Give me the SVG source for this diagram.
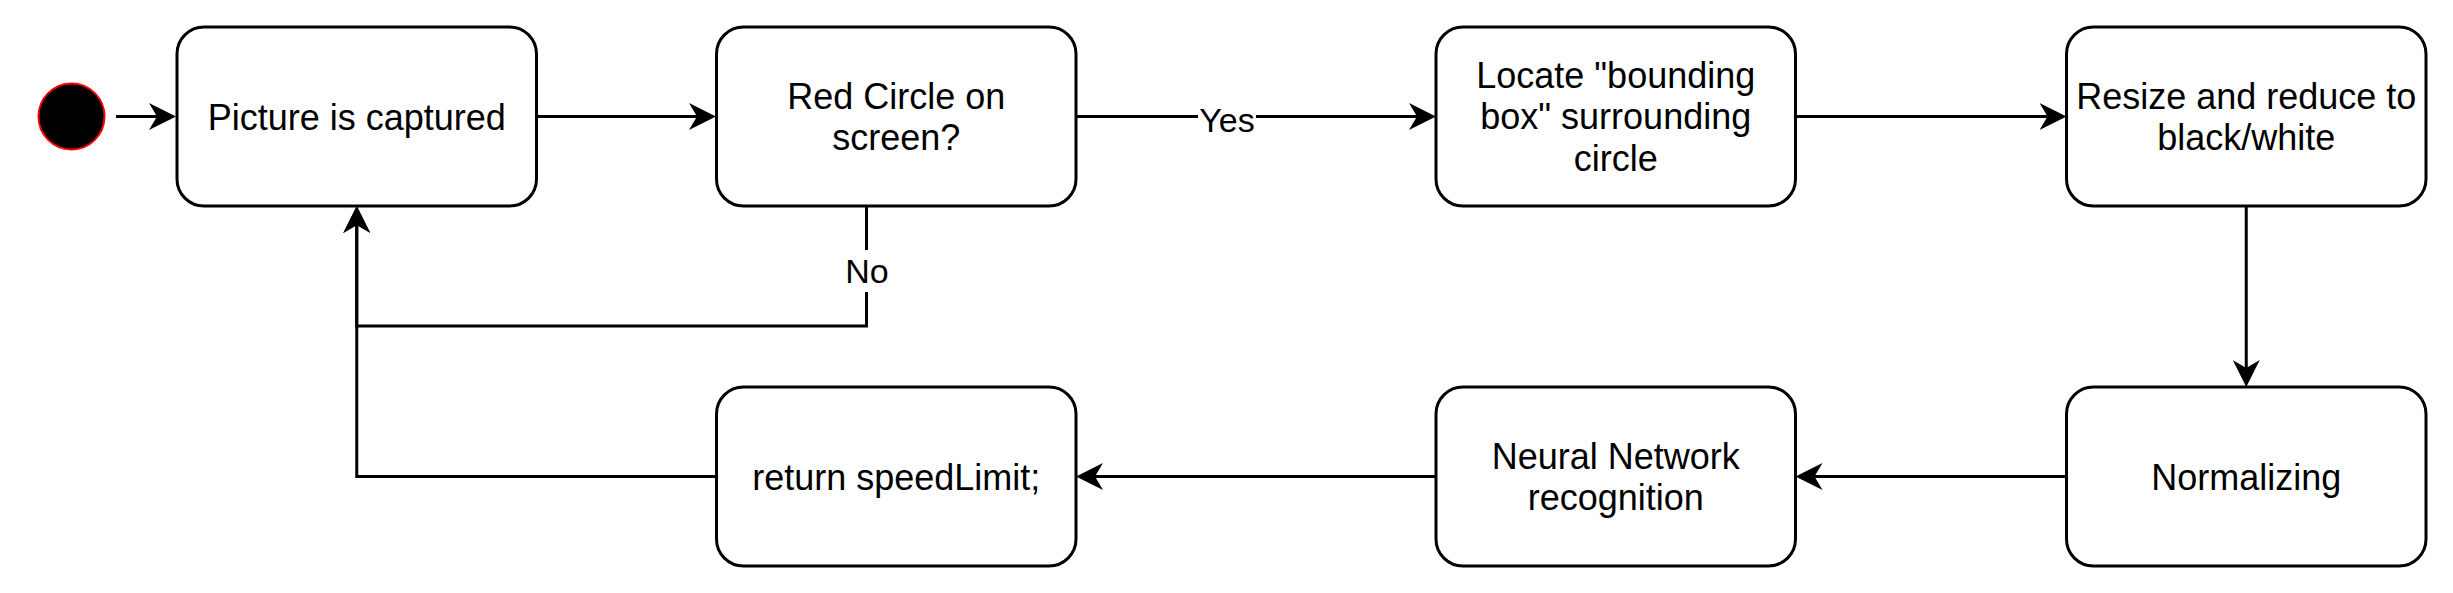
<svg xmlns="http://www.w3.org/2000/svg" width="2453" height="593" viewBox="0 0 2453 593">
<style>
.node{fill:#ffffff;stroke:#000000;stroke-width:3}
.t{font-family:"Liberation Sans",Arial,sans-serif;font-size:36px;fill:#000000;text-anchor:middle}
.lbl{font-family:"Liberation Sans",Arial,sans-serif;font-size:34px;fill:#000000;text-anchor:middle}
.edge{fill:none;stroke:#000000;stroke-width:3;marker-end:url(#arr)}
.plain{fill:none;stroke:#000000;stroke-width:3}
</style>
<defs>
<marker id="arr" markerUnits="userSpaceOnUse" viewBox="0 0 27 27" refX="8" refY="13.5" markerWidth="27" markerHeight="27" orient="auto">
<path d="M0,0 L27,13.5 L0,27 L8,13.5 Z" fill="#000000"/>
</marker>
</defs>
<rect width="2453" height="593" fill="#ffffff"/>
<g id="connectors">
<path class="edge" d="M116,116.5 H157"/>
<path class="edge" d="M536.5,116.5 H697"/>
<path class="edge" d="M1076,116.5 H1417"/>
<path class="edge" d="M1795.5,116.5 H2047.5"/>
<path class="edge" d="M2246.25,206 V368"/>
<path class="edge" d="M2066.5,476.5 H1814.5"/>
<path class="edge" d="M1436,476.5 H1095"/>
<path class="edge" d="M716.5,476.5 H356.75 V225"/>
<path class="edge" d="M866.5,206 V326 H356.75 V225"/>
<rect x="1198" y="100" width="58" height="33" fill="#ffffff"/>
<text class="lbl" x="1227" y="131.5">Yes</text>
<rect x="845" y="250" width="44" height="42" fill="#ffffff"/>
<text class="lbl" x="867" y="282.5">No</text>
</g>
<g id="start">
<circle cx="71.5" cy="116.5" r="33" fill="#000000" stroke="#ff0000" stroke-width="2"/>
</g>
<g id="picture-captured">
<rect class="node" x="177" y="27" width="359.5" height="179" rx="27" ry="27"/>
<text class="t" x="356.75" y="129.5">Picture is captured</text>
</g>
<g id="red-circle">
<rect class="node" x="716.5" y="27" width="359.5" height="179" rx="27" ry="27"/>
<text class="t" x="896.25" y="109">Red Circle on</text>
<text class="t" x="896.25" y="150">screen?</text>
</g>
<g id="locate-box">
<rect class="node" x="1436" y="27" width="359.5" height="179" rx="27" ry="27"/>
<text class="t" x="1615.75" y="87.5">Locate "bounding</text>
<text class="t" x="1615.75" y="129">box" surrounding</text>
<text class="t" x="1615.75" y="170.5">circle</text>
</g>
<g id="resize">
<rect class="node" x="2066.5" y="27" width="359.5" height="179" rx="27" ry="27"/>
<text class="t" x="2246.25" y="109">Resize and reduce to</text>
<text class="t" x="2246.25" y="150">black/white</text>
</g>
<g id="normalizing">
<rect class="node" x="2066.5" y="387" width="359.5" height="179" rx="27" ry="27"/>
<text class="t" x="2246.25" y="489.5">Normalizing</text>
</g>
<g id="neural-network">
<rect class="node" x="1436" y="387" width="359.5" height="179" rx="27" ry="27"/>
<text class="t" x="1615.75" y="469">Neural Network</text>
<text class="t" x="1615.75" y="510">recognition</text>
</g>
<g id="return-speed">
<rect class="node" x="716.5" y="387" width="359.5" height="179" rx="27" ry="27"/>
<text class="t" x="896.25" y="489.5">return speedLimit;</text>
</g>
</svg>
